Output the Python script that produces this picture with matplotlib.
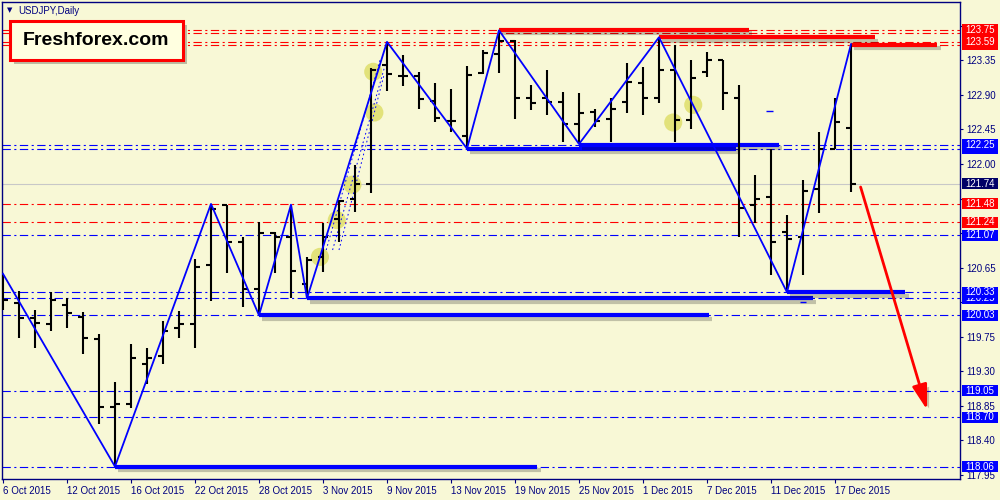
"""
USDJPY daily bars, Oct-Dec 2015, with zigzag, support / resistance levels.
"""

import numpy as np
import matplotlib
matplotlib.use("Agg")
import matplotlib.pyplot as plt
import matplotlib.patheffects as pe
import matplotlib.transforms as mtransforms
from matplotlib.patches import Rectangle

plt.rcParams["font.family"] = ["Liberation Sans", "DejaVu Sans"]
plt.rcParams["lines.scale_dashes"] = False

BG    = "#F8F8D6"
NAVY  = "#000080"
BLUE  = "#0000FF"
RED   = "#FF0000"
DASHDOT = (0, (6, 2.5, 1.5, 2.5))

# ── OHLC bars (one per trading day, 6 Oct .. 18 Dec 2015) ────────────────────
opens  = [120.36, 120.19, 120.00, 119.91, 120.16, 120.01, 119.72, 118.84, 118.88, 119.40,
          119.50, 119.87, 119.91, 120.68, 121.47, 120.98, 120.37, 121.10, 121.05, 120.44,
          120.79, 121.28, 121.54, 121.74, 123.29, 123.14, 123.15, 122.82, 122.56, 122.37,
          123.18, 123.43, 123.60, 122.86, 122.86, 122.81, 122.52, 122.68, 122.59, 122.81,
          123.06, 122.86, 123.22, 122.57, 123.20, 123.36, 122.86, 121.47, 121.57, 121.12,
          121.05, 121.67, 122.20, 122.47]
highs  = [120.56, 120.34, 120.10, 120.33, 120.25, 120.07, 119.79, 119.16, 119.65, 119.60,
          119.96, 120.09, 120.76, 121.48, 121.47, 121.05, 121.24, 121.11, 121.47, 120.79,
          121.23, 121.53, 121.99, 123.25, 123.59, 123.42, 123.20, 123.06, 122.97, 123.27,
          123.48, 123.74, 123.61, 123.03, 123.23, 122.94, 122.93, 122.72, 122.86, 123.32,
          123.26, 123.65, 123.55, 123.36, 123.46, 123.36, 123.03, 121.86, 122.20, 121.34,
          121.79, 122.41, 122.86, 123.56]
lows   = [120.10, 119.73, 119.61, 119.83, 119.87, 119.53, 118.62, 118.06, 118.82, 119.13,
          119.39, 119.74, 119.61, 120.21, 120.58, 120.14, 120.03, 120.58, 120.25, 120.25,
          120.59, 120.98, 121.37, 121.62, 122.95, 123.01, 122.72, 122.54, 122.42, 122.20,
          123.17, 123.19, 122.59, 122.70, 122.64, 122.29, 122.26, 122.48, 122.29, 122.67,
          122.64, 122.80, 122.28, 122.46, 123.13, 122.70, 121.05, 121.23, 120.56, 120.33,
          120.56, 121.36, 122.20, 121.63]
closes = [120.23, 120.00, 119.93, 120.23, 120.06, 119.74, 118.83, 118.88, 119.48, 119.48,
          119.82, 119.91, 120.66, 121.42, 120.98, 120.37, 121.10, 121.05, 120.60, 120.75,
          121.05, 121.52, 121.74, 123.22, 123.17, 123.14, 122.85, 122.60, 122.56, 123.16,
          123.45, 123.60, 122.86, 122.80, 122.81, 122.52, 122.67, 122.56, 122.72, 123.07,
          122.86, 123.22, 122.57, 123.12, 123.35, 122.93, 121.43, 121.54, 120.98, 121.02,
          121.65, 122.20, 122.55, 121.74]

date_labels = ["6 Oct 2015", "12 Oct 2015", "16 Oct 2015", "22 Oct 2015", "28 Oct 2015",
               "3 Nov 2015", "9 Nov 2015", "13 Nov 2015", "19 Nov 2015", "25 Nov 2015",
               "1 Dec 2015", "7 Dec 2015", "11 Dec 2015", "17 Dec 2015"]
date_label_bars = [0, 4, 8, 12, 16, 20, 24, 28, 32, 36, 40, 44, 48, 52]

# zigzag swing points
zz_bar   = [0, 7, 13, 16, 18, 19, 24, 29, 31, 36, 41, 49, 53]
zz_price = [120.57, 118.06, 121.48, 120.03, 121.47, 120.25, 123.59, 122.20, 123.74,
            122.26, 123.65, 120.33, 123.56]

# horizontal levels
red_levels  = [123.75, 123.70, 123.59, 123.55, 121.48, 121.24]
blue_levels = [122.25, 122.20, 121.07, 120.33, 120.25, 120.03, 119.05, 118.70, 118.06]
last_price  = 121.74

# thick support / resistance segments
blue_seg_price = [118.06, 120.03, 120.25, 122.20, 122.25, 120.33]
blue_seg_start = [7, 16, 19, 29, 36, 49]
blue_seg_end   = [33.4, 44.1, 50.6, 45.8, 48.5, 56.4]
red_seg_price  = [123.75, 123.65, 123.55]
red_seg_start  = [31, 41, 53]
red_seg_end    = [46.6, 54.5, 58.4]

# dotted fan lines near the early-Nov rally
fan_start_bar   = [20.2, 20.6, 21.0]
fan_start_price = [120.88, 120.88, 120.88]
fan_end_bar     = [23.6, 23.9, 23.8]
fan_end_price   = [123.38, 123.30, 123.15]

# yellow trade markers
mark_bar   = [19.81, 20.86, 21.84, 23.14, 23.21, 41.89, 43.14]
mark_price = [120.79, 121.27, 121.73, 123.20, 122.67, 122.54, 122.77]

# small stray dashes
dash_bar   = [47.9, 50.0]
dash_price = [122.69, 120.20]

# forecast arrow
arrow_from = (53.6, 121.70)
arrow_to   = (57.75, 118.80)

# right-hand price tags; the hidden ones are covered by their neighbours
hidden_tag_price = [123.70, 123.55, 122.20]
hidden_tag_color = [RED, RED, BLUE]
tag_price = [123.75, 123.59, 122.25, 121.74, 121.48, 121.24,
             121.07, 120.25, 120.33, 120.03, 119.05, 118.70, 118.06]
tag_color = [RED, RED, BLUE, "#000066", RED, RED,
             BLUE, BLUE, BLUE, BLUE, BLUE, BLUE, BLUE]

# axis grid labels that sit behind a price tag (tick kept, label hidden)
covered_ticks = [123.80, 121.55, 121.10, 120.20]

bars = np.arange(len(opens))

# ── figure ───────────────────────────────────────────────────────────────────
fig = plt.figure(figsize=(10, 5), dpi=100, facecolor=BG)
ax = fig.add_axes([0.002, 0.042, 0.958, 0.954], facecolor=BG)
ax.set_xlim(-0.0625, 59.8125)
ax.set_ylim(117.898, 124.109)

for s in ax.spines.values():
    s.set_color(NAVY)
    s.set_linewidth(1.0)

for p in red_levels:
    ax.axhline(p, color=RED, lw=0.8, ls=DASHDOT, zorder=1)
for p in blue_levels:
    ax.axhline(p, color=BLUE, lw=0.8, ls=DASHDOT, zorder=1)
ax.axhline(last_price, color="#C8C8C8", lw=0.8, zorder=1)

# markers under the bars
ax.scatter(mark_bar, mark_price, s=170, c="#E0E070", alpha=0.9,
           edgecolors="none", zorder=2)

shadow = [pe.SimpleLineShadow(offset=(2.5, -2.5), shadow_color="k", alpha=0.22),
          pe.Normal()]

for p, a, b in zip(blue_seg_price, blue_seg_start, blue_seg_end):
    ax.plot([a, b], [p, p], color=BLUE, lw=3, solid_capstyle="butt",
            zorder=3, path_effects=shadow)
for p, a, b in zip(red_seg_price, red_seg_start, red_seg_end):
    ax.plot([a, b], [p, p], color=RED, lw=3, solid_capstyle="butt",
            zorder=3, path_effects=shadow)

for x0, y0, x1, y1 in zip(fan_start_bar, fan_start_price, fan_end_bar, fan_end_price):
    ax.plot([x0, x1], [y0, y1], color=BLUE, lw=0.7, ls=(0, (1.2, 2.0)), zorder=3)

ax.hlines(dash_price, np.array(dash_bar) - 0.2, np.array(dash_bar) + 0.2,
          color=BLUE, lw=1.0, zorder=3)

# OHLC bars
ax.vlines(bars, lows, highs, color="black", lw=1.5, zorder=4)
ax.hlines(opens, bars - 0.33, bars, color="black", lw=1.5, zorder=4)
ax.hlines(closes, bars, bars + 0.33, color="black", lw=1.5, zorder=4)

ax.plot(zz_bar, zz_price, color=BLUE, lw=1.3, zorder=5)

ax.annotate("", xy=arrow_to, xytext=arrow_from,
            arrowprops=dict(arrowstyle="-|>,head_length=1.5,head_width=0.45",
                            color=RED, lw=2, shrinkA=0, shrinkB=0,
                            mutation_scale=10,
                            path_effects=[pe.SimplePatchShadow(offset=(2.5, -2.5),
                                                               alpha=0.25),
                                          pe.Normal()]),
            zorder=6)

# axes ticks
ax.set_xticks(date_label_bars)
ax.set_xticklabels(date_labels, ha="left")
ax.tick_params(axis="x", direction="out", length=3, width=0.8, color=NAVY,
               labelsize=7, labelcolor=NAVY, pad=2)

yt = [round(117.95 + 0.45 * k, 2) for k in range(14)]
ax.yaxis.tick_right()
ax.set_yticks(yt)
ax.set_yticklabels(["" if v in covered_ticks else f"{v:.2f}" for v in yt])
ax.tick_params(axis="y", direction="out", length=2.5, width=0.8, color=NAVY,
               labelsize=7, labelcolor=NAVY, pad=2.3)

# price tags on the right axis
tr = mtransforms.blended_transform_factory(ax.transAxes, ax.transData)
h = 0.143
for p, c in zip(hidden_tag_price, hidden_tag_color):
    ax.add_patch(Rectangle((1.0016, p - h / 2), 0.038, h, transform=tr,
                           facecolor=c, edgecolor="none", clip_on=False, zorder=7))
for k, (p, c) in enumerate(zip(tag_price, tag_color)):
    z = 8 + 2 * k
    ax.add_patch(Rectangle((1.0016, p - h / 2), 0.038, h, transform=tr,
                           facecolor=c, edgecolor="none", clip_on=False, zorder=z))
    ax.text(1.0205, p, f"{p:.2f}", transform=tr, ha="center", va="center",
            color="white", fontsize=7, zorder=z + 1, clip_on=False)

# header + logo
fig.text(0.007, 0.979, "\u25BC", fontsize=5, color=NAVY, va="center",
         family="DejaVu Sans")
fig.text(0.0185, 0.979, "USDJPY,Daily", fontsize=7, color=NAVY, va="center")

logo = Rectangle((0.010, 1 - 60 / 500), 0.173, 39.3 / 500, transform=fig.transFigure,
                 facecolor="#FFFFE0", edgecolor=RED, lw=2.2, zorder=10,
                 path_effects=[pe.SimplePatchShadow(offset=(3, -3), alpha=0.35),
                               pe.Normal()])
fig.add_artist(logo)
fig.text(0.0965, 1 - 40.5 / 500, "Freshforex.com", fontsize=14, fontweight="bold",
         color="black", ha="center", va="center", zorder=11)

fig.savefig("out.png", dpi=100, facecolor=BG)
